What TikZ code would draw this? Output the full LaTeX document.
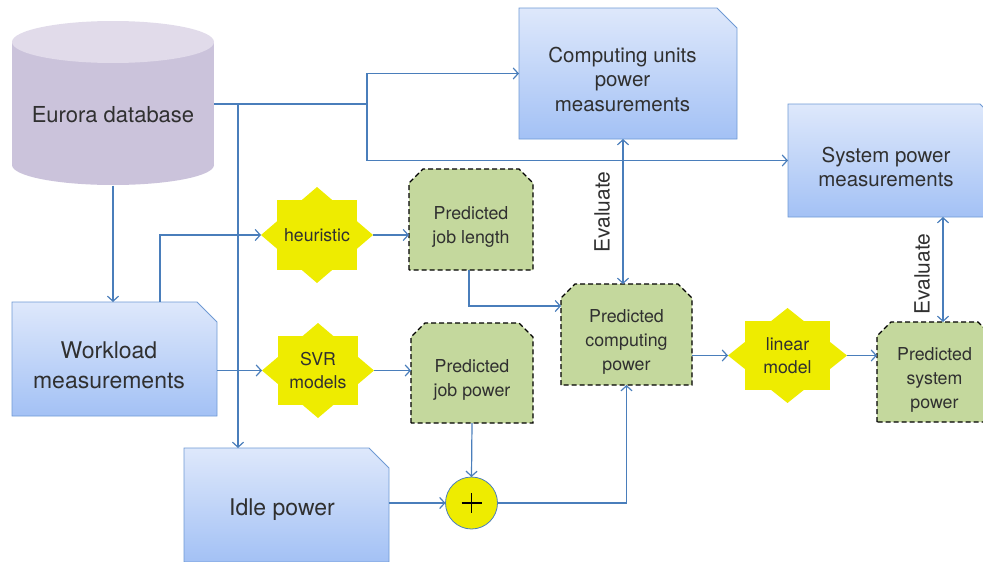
\documentclass[tikz,border=0pt]{standalone}
\usepackage{fontspec}
\setmainfont{TeX Gyre Heros}
\usetikzlibrary{arrows.meta,calc,backgrounds}
\definecolor{linec}{HTML}{4A7EBB}
\definecolor{docborder}{HTML}{6F9AD4}
\definecolor{doctop}{HTML}{DEE8FB}
\definecolor{docbot}{HTML}{A3C1F5}
\definecolor{predfill}{HTML}{C4D89D}
\definecolor{burstfill}{HTML}{EEEC00}
\definecolor{dbbody}{HTML}{CBC3DB}
\definecolor{dbtop}{HTML}{E1DBEA}
\definecolor{txt}{HTML}{303030}
\begin{document}
\begin{tikzpicture}[x=1pt,y=-1pt,
  every node/.style={text=txt, inner sep=0pt, outer sep=0pt},
  docshape/.style={draw=docborder, line width=0.9pt, top color=doctop, bottom color=docbot},
  doctext/.style={align=center, font=\fontsize{20.5}{24.5}\selectfont},
  predshape/.style={draw=black, dash pattern=on 5pt off 3pt, line width=1.1pt, fill=predfill},
  predtext/.style={align=center, font=\fontsize{17.8}{24}\selectfont},
  burst/.style={rectangle, align=center, font=\fontsize{17.7}{23}\selectfont},
  conn/.style={draw=linec, line width=1.2pt, -{Straight Barb[length=5pt,width=11pt]}},
  biconn/.style={draw=linec, line width=1.2pt,
    {Straight Barb[length=5pt,width=11pt]}-{Straight Barb[length=5pt,width=11pt]}},
  evallabel/.style={rotate=90, font=\fontsize{21}{24}\selectfont},
]
\useasboundingbox (0,0) rectangle (983,562);

% database cylinder
\fill[dbbody] (113,165) ellipse [x radius=101pt, y radius=20pt];
\fill[dbbody] (12,42) rectangle (214,165);
\fill[dbtop] (113,42) ellipse [x radius=101pt, y radius=21pt];
\node[minimum width=202pt, minimum height=163pt] (db) at (113,104) {};
\node[font=\fontsize{22}{26}\selectfont] (dbtext) at (113,115) {Eurora database};

% measurement documents
\foreach \n/\w/\h/\x/\y in {cu/218/131/628/73.5, sp/212/113/894/160.5, wl/205/114/114.5/359, idle/205/114/286.5/505} {
  \node[minimum width=\w pt, minimum height=\h pt] (\n) at (\x,\y) {};
  \path[docshape] (\n.south west) -- (\n.north west) -- ([xshift=-20pt]\n.north east)
    -- ([yshift=-20pt]\n.north east) -- (\n.south east) -- cycle;
}
\node[doctext] (cutext) at (622.5,79) {Computing units\\power\\measurements};
\node[doctext] (sptext) at (886,167) {System power\\measurements};
\node[align=center, font=\fontsize{23}{30}\selectfont] (wltext) at (109,365) {Workload\\measurements};
\node[font=\fontsize{23}{28}\selectfont] (idletext) at (282,510) {Idle power};

% predictions
\foreach \n/\w/\h/\x/\y in {jl/124/101/471/219.5, jp/122/100/472/373, cp/131/101/626.5/334.5, ps/115/100/934.5/372} {
  \node[minimum width=\w pt, minimum height=\h pt] (\n) at (\x,\y) {};
  \path[predshape] (\n.south west) -- ([yshift=-14pt]\n.north west) -- ([xshift=14pt]\n.north west)
    -- ([xshift=-14pt]\n.north east) -- ([yshift=-14pt]\n.north east) -- (\n.south east) -- cycle;
}
\node[predtext] (jltext) at (471,227) {Predicted\\job length};
\node[predtext] (jptext) at (472,380) {Predicted\\job power};
\node[predtext] (cptext) at (626.5,341.5) {Predicted\\computing\\power};
\node[predtext] (pstext) at (934.5,380) {Predicted\\system\\power};

% models
\node[burst, minimum width=112pt, minimum height=96pt] (heur) at (317,235) {heuristic};
\node[burst, minimum width=112pt, minimum height=95pt] (svr) at (318,370.5) {SVR\\models};
\node[burst, minimum width=119pt, minimum height=95pt] (lin) at (787.5,355.5) {linear\\model};
\begin{scope}[on background layer]
  \foreach \s in {heur,svr,lin} {
    \fill[burstfill] (\s.west) -- (\s.north) -- (\s.east) -- (\s.south) -- cycle;
    \fill[burstfill] ($(\s.north west)!0.14!(\s.south east)$) rectangle ($(\s.north west)!0.86!(\s.south east)$);
  }
\end{scope}

% sum
\node[circle, minimum size=52pt, fill=burstfill, draw=linec, line width=0.8pt] (plus) at (471.5,503) {};
\draw[black, line width=1.1pt] ($(plus.center)+(-10,0)$) -- ($(plus.center)+(10,0)$)
  ($(plus.center)+(0,-10)$) -- ($(plus.center)+(0,10)$);

% evaluate labels
\node[evallabel] (ev1) at (602,212) {Evaluate};
\node[evallabel] (ev2) at (922,274) {Evaluate};

% connectors
\coordinate (jA) at (367,104);
\coordinate (jB) at (238,104);
\coordinate (jC) at (160,236);
\coordinate (jD) at (469,306);
\coordinate (jE) at (623,200);
\coordinate (jF) at (943,270);
\draw[conn] (db.east) -- (jA) |- (cu.west);
\draw[conn] (jA) |- (sp.west);
\draw[conn] (jB) -- (jB |- idle.north);
\draw[conn] (db.south) -- (db.south |- wl.north);
\draw[conn] (jC |- wl.north) |- (heur.west);
\draw[conn] (wl.east |- svr.west) -- (svr.west);
\draw[conn] (heur.east) -- (heur.east -| jl.west);
\draw[conn] (svr.east) -- (svr.east -| jp.west);
\draw[conn] (jD |- jl.south) -- (jD) -- (jD -| cp.west);
\draw[conn] (jp.south) -- (plus.north);
\draw[conn] (idle.east |- plus.west) -- (plus.west);
\draw[conn] (plus.east) -| (cp.south);
\draw[conn] (lin.west -| cp.east) -- (lin.west);
\draw[conn] (lin.east) -- (lin.east -| ps.west);
\draw[biconn] (jE |- cu.south) -- (jE |- cp.north);
\draw[biconn] (jF |- sp.south) -- (jF |- ps.north);
\end{tikzpicture}
\end{document}
